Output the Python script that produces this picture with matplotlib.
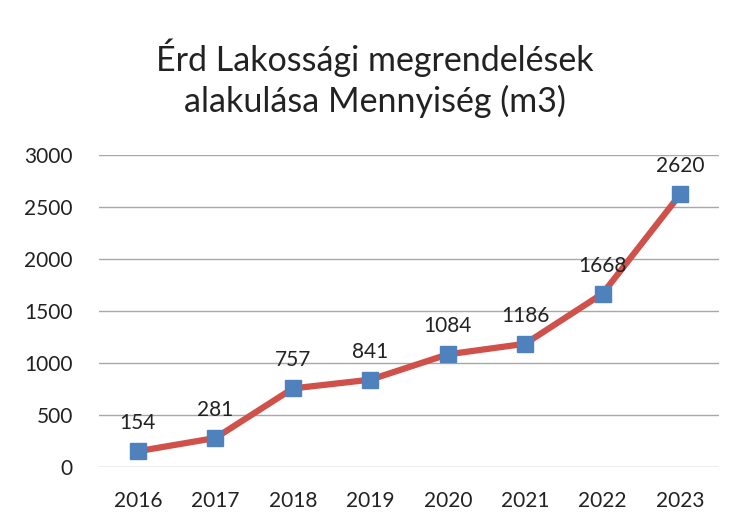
import matplotlib.pyplot as plt

years = ["2016", "2017", "2018", "2019", "2020", "2021", "2022", "2023"]
values = [154, 281, 757, 841, 1084, 1186, 1668, 2620]
y_ticks = [0, 500, 1000, 1500, 2000, 2500, 3000]

plt.rcParams['font.family'] = ['Lato', 'DejaVu Sans']

fig = plt.figure(figsize=(7.35, 5.25), dpi=100)
ax = fig.add_axes([0.135, 0.110, 0.843, 0.595])

x = list(range(len(years)))
ax.plot(x, values, color="#d0504a", linewidth=4.5, marker="s",
        markersize=11, markerfacecolor="#4f81bd", markeredgecolor="#4f81bd",
        zorder=3)

for xi, v in zip(x, values):
    ax.annotate(str(v), xy=(xi, v), xytext=(0, 13), textcoords="offset points",
                ha="center", va="bottom", fontsize=15, color="#222222")

ax.set_xlim(-0.5, len(years) - 0.5)
ax.set_ylim(0, 3000)
ax.set_yticks(y_ticks)
ax.set_xticks(x)
ax.set_xticklabels(years)
ax.tick_params(axis="both", length=0, labelsize=15, colors="#222222")
ax.tick_params(axis="y", pad=19)
ax.tick_params(axis="x", pad=17)
ax.grid(axis="y", color="#a8a8a8", linewidth=1)
ax.set_axisbelow(True)
for s in ax.spines.values():
    s.set_visible(False)

fig.text(0.51, 0.851, "Érd Lakossági megrendelések\nalakulása Mennyiség (m3)",
         ha="center", va="center", fontsize=24.5, color="#222222", linespacing=1.3)

fig.savefig("out.png", dpi=100)
